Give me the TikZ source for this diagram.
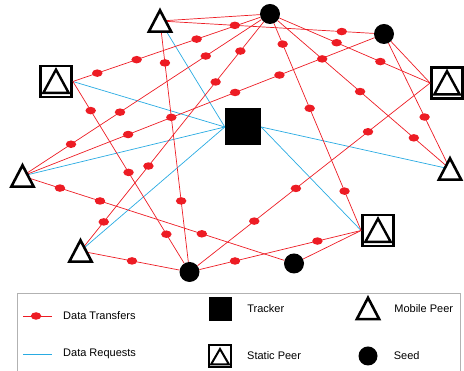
\documentclass[tikz,border=0pt]{standalone}
\usepackage{fontspec}
\setmainfont{Liberation Sans}
\usetikzlibrary{positioning,shapes.geometric}

\definecolor{xfer}{RGB}{237,28,36}
\definecolor{req}{RGB}{41,171,226}

\begin{document}
\begin{tikzpicture}[
    x=1pt,y=1pt,
    seed/.style={circle,fill=black,inner sep=0pt,minimum size=20pt},
    tracker/.style={fill=black,inner sep=0pt,minimum width=36pt,minimum height=37pt},
    mobile/.style={inner sep=0pt,minimum width=22pt,minimum height=21pt},
    static/.style={draw,fill=white,line width=2.8pt,inner sep=0pt,minimum size=31pt},
    tri/.style={line width=2.6pt,line join=miter},
    transfer/.style={draw=xfer,line width=0.7pt},
    request/.style={draw=req,line width=0.7pt},
    dot/.style={ellipse,fill=xfer,inner sep=0pt,minimum width=10.5pt,minimum height=7.5pt},
    legtext/.style={inner sep=0pt,font=\fontsize{11}{13}\selectfont}
]
\useasboundingbox (0,0) rectangle (464,371);

\node[tracker] (trk) at (243,244) {};
\node[seed] (sa) at (270,357) {};
\node[seed] (sb) at (384,337) {};
\node[seed] (sc) at (189.5,99) {};
\node[seed] (sd) at (294,107.5) {};
\node[mobile] (m1) at (160,350) {};
\node[mobile] (m2) at (22.5,195) {};
\node[mobile] (m3) at (80.5,120) {};
\node[mobile] (m4) at (450,202) {};
\node[static] (s1) at (56,289.5) {};
\node[static] (s2) at (447,288) {};
\node[static] (s3) at (378,140.5) {};

% requests to the tracker
\draw[request] (m1.center) -- (trk.west);
\draw[request] (s1.east) -- (trk.west);
\draw[request] (m2.center) -- (trk.west);
\draw[request] (m3.center) -- (trk.west);
\draw[request] (trk.east) -- (m4.center);
\draw[request] (trk.east) -- (s3.west);

% transfers between peers and seeds
\draw[transfer] (m1.center) -- (sa);
\draw[transfer] (m1.center) -- (sb)
    foreach \p [count=\k] in {.35,.85} {node[dot,pos=\p] (m1sb\k) {}};
\draw[transfer] (m1.center) -- (sc)
    foreach \p [count=\k] in {.174,.40,.747} {node[dot,pos=\p] (m1sc\k) {}};
\draw[transfer] (sa) -- (s1.east)
    foreach \p [count=\k] in {.34,.66,.87} {node[dot,pos=\p] (sas1\k) {}};
\draw[transfer] (sa) -- (m2.center)
    foreach \p [count=\k] in {.233,.592,.797} {node[dot,pos=\p] (sam2\k) {}};
\draw[transfer] (sa) -- (m3.center)
    foreach \p [count=\k] in {.127,.262,.629,.873} {node[dot,pos=\p] (sam3\k) {}};
\draw[transfer] (sa) -- (s3.west)
    foreach \p [count=\k] in {.10,.41,.81} {node[dot,pos=\p] (sas3\k) {}};
\draw[transfer] (sa) -- (s2.west)
    foreach \p [count=\k] in {.38,.67} {node[dot,pos=\p] (sas2\k) {}};
\draw[transfer] (sa) -- (m4.center)
    foreach \p [count=\k] in {.258,.478,.79} {node[dot,pos=\p] (sam4\k) {}};
\draw[transfer] (sb) -- (m4.center) node[dot,pos=.587] (sbm4) {};
\draw[transfer] (sb) -- (s2.west);
\draw[transfer] (m2.center) -- (sb)
    foreach \p [count=\k] in {.30,.604,.73} {node[dot,pos=\p] (m2sb\k) {}};
\draw[transfer] (m2.center) -- (sd)
    foreach \p [count=\k] in {.143,.296,.685} {node[dot,pos=\p] (m2sd\k) {}};
\draw[transfer] (s1.east) -- (sc)
    foreach \p [count=\k] in {.16,.50,.84} {node[dot,pos=\p] (s1sc\k) {}};
\draw[transfer] (m3.center) -- (sc) node[dot,pos=.52] (m3sc) {};
\draw[transfer] (sc) -- (s3.west)
    foreach \p [count=\k] in {.22,.73} {node[dot,pos=\p] (scs3\k) {}};
\draw[transfer] (sd) -- (s3.west);
\draw[transfer] (sc) -- (s2.west)
    foreach \p [count=\k] in {.244,.423,.733} {node[dot,pos=\p] (scs2\k) {}};

% legend
\draw[gray!60,line width=0.8pt] (17,-4) rectangle (460,78);
\coordinate (lx1) at (23,55);
\coordinate (lx2) at (52,55);
\draw[transfer] (lx1) -- (lx2) node[dot,pos=.45] (lxd) {};
\node[legtext,right=11pt of lx2] (lxt) {Data Transfers};
\coordinate (lr1) at (23,17);
\coordinate (lr2) at (52,17);
\draw[request] (lr1) -- (lr2);
\node[legtext,right=11pt of lr2] (lrt) {Data Requests};
\node[tracker,minimum width=23pt,minimum height=24pt] (ltk) at (220.5,62) {};
\node[legtext,right=15pt of ltk] (ltkt) {Tracker};
\node[static,line width=2pt,minimum size=22pt] (lst) at (220,15) {};
\node[legtext,right=15pt of lst] (lstt) {Static Peer};
\node[mobile] (lmb) at (368,62.5) {};
\node[legtext,right=15pt of lmb] (lmbt) {Mobile Peer};
\node[seed,minimum size=19pt] (lsd) at (368,15) {};
\node[legtext,right=16pt of lsd] (lsdt) {Seed};

% peer glyphs
\foreach \n in {m1,m2,m3,m4,lmb}
    \draw[tri,fill=white] (\n.south west) -- (\n.north) -- (\n.south east) -- cycle;
\foreach \n in {s1,s2,s3}
    \draw[tri,line width=2.4pt] ([shift={(4.2pt,5.5pt)}]\n.south west)
        -- ([yshift=-5pt]\n.north) -- ([shift={(-4.2pt,5.5pt)}]\n.south east) -- cycle;
\draw[tri,line width=2pt] ([shift={(3pt,3.5pt)}]lst.south west)
    -- ([yshift=-5pt]lst.north) -- ([shift={(-3pt,3.5pt)}]lst.south east) -- cycle;
\end{tikzpicture}
\end{document}
